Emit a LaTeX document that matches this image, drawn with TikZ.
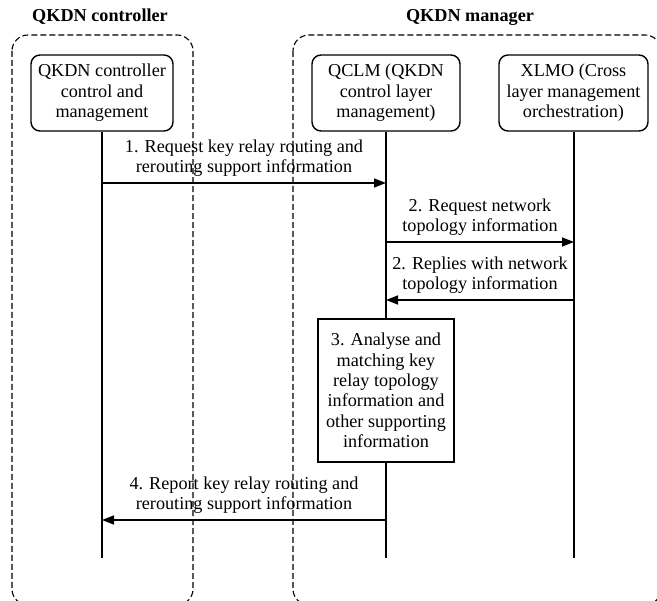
\documentclass[tikz,border=0pt]{standalone}
\usepackage{fontspec}
\setmainfont{Liberation Serif}
\usetikzlibrary{arrows.meta}
\begin{document}
\begin{tikzpicture}[x=1pt,y=-1pt,
  txt/.style={font=\fontsize{18.2}{20.4}\selectfont, align=center},
  title/.style={font=\fontsize{18.2}{20.4}\selectfont\bfseries},
  lane/.style={draw, line width=1.1pt, dash pattern=on 6pt off 3pt, rounded corners=16pt},
  actor/.style={txt, draw, line width=1.4pt, rounded corners=9pt, inner sep=0pt,
    minimum height=76pt},
  task/.style={txt, draw, line width=1.4pt, fill=white, inner sep=0pt},
  life/.style={line width=1.4pt},
  msg/.style={line width=1.5pt, -{Triangle[length=12pt,width=9pt]}},
  lbl/.style={txt, inner sep=0pt, anchor=south, yshift=5.5pt}
]
\useasboundingbox (0,0) rectangle (657,601);

% swimlane containers
\draw[lane] (12,35) rectangle (193,605);
\draw[lane] (293,35) rectangle (661,605);
\node[title] (tctl) at (100,17) {QKDN controller};
\node[title] (tmgr) at (470,17) {QKDN manager};

% participants
\node[actor, minimum width=142pt] (ctl) at (102,93)
  {QKDN controller\\control and\\management};
\node[actor, minimum width=148pt] (qclm) at (386,93)
  {QCLM (QKDN\\control layer\\management)};
\node[actor, minimum width=149pt] (xlmo) at (573.5,93)
  {XLMO (Cross\\layer management\\orchestration)};

% lifeline ends
\coordinate (ctlend) at (102,558);
\coordinate (qclmend) at (386,558);
\coordinate (xlmoend) at (574,558);

\draw[life] (ctl.south) -- (ctlend);
\draw[life] (qclm.south) -- (qclmend);
\draw[life] (xlmo.south -| xlmoend) -- (xlmoend);

% analysis step on the QCLM lifeline
\node[task, minimum width=136pt, minimum height=143pt] (ana) at (386,390.5)
  {3. Analyse and\\matching key\\relay topology\\information and\\other supporting\\information};

% message anchors on the lifelines
\coordinate (c1) at (102,183);
\coordinate (q1) at (386,183);
\coordinate (q2) at (386,242);
\coordinate (x2) at (574,242);
\coordinate (x3) at (574,300);
\coordinate (q3) at (386,300);
\coordinate (q4) at (386,520);
\coordinate (c4) at (102,520);

% messages
\draw[msg] (c1) -- (q1)
  node[lbl, midway] (m1) {1. Request key relay routing and\\rerouting support information};
\draw[msg] (q2) -- (x2)
  node[lbl, midway] (m2) {2. Request network\\topology information};
\draw[msg] (x3) -- (q3)
  node[lbl, midway] (m3) {2. Replies with network\\topology information};
\draw[msg] (q4) -- (c4)
  node[lbl, midway] (m4) {4. Report key relay routing and\\rerouting support information};
\end{tikzpicture}
\end{document}
